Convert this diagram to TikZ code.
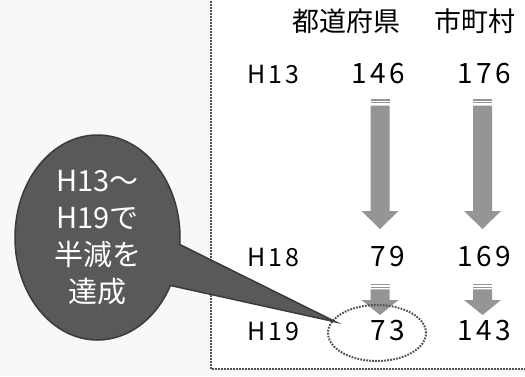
\documentclass[tikz,border=0pt]{standalone}
\usepackage{fontspec}
\setmainfont{Noto Sans CJK JP}
\newfontfamily\numfont[LetterSpace=12]{Noto Sans CJK JP}
\usetikzlibrary{shapes.geometric}
\usetikzlibrary{shapes.callouts}
\definecolor{bggray}{HTML}{F8F8F8}
\definecolor{boxgray}{HTML}{505050}
\definecolor{arrowgray}{HTML}{959595}
\definecolor{bubblefill}{HTML}{595959}
\definecolor{bubbleline}{HTML}{3A3A3A}
\tikzstyle{year}=[anchor=west, inner sep=0pt, font=\numfont\fontsize{25}{25}\selectfont]
\tikzstyle{count}=[anchor=east, inner sep=0pt, font=\numfont\fontsize{28}{28}\selectfont]
\tikzstyle{head}=[inner sep=0pt, font=\fontsize{27}{27}\selectfont]
\tikzstyle{dotline}=[draw=boxgray, line width=2pt, dash pattern=on 1.7pt off 1.3pt]
\tikzstyle{bubble}=[ellipse callout, fill=bubblefill, draw=bubbleline, line width=1.5pt,
    text=white, align=center, inner sep=0pt, minimum width=165pt, minimum height=205pt,
    callout pointer arc=24, font=\fontsize{29}{37}\selectfont]

\begin{document}
\begin{tikzpicture}[x=1pt, y=-1pt]
        \useasboundingbox (0, 0) rectangle (525, 376);
        \fill[bggray] (0, 0) rectangle (525, 376);
        \fill[white] (211, 0) rectangle (525, 369);
        \draw[dotline] (211, -2) -- (211, 369) -- (527, 369);

        \node[head] (pref) at (346, 21) {都道府県};
        \node[head] (city) at (475, 21) {市町村};

        \node[year] (y13) at (247, 74) {H13};
        \node[year] (y18) at (247, 257) {H18};
        \node[year] (y19) at (247, 331) {H19};

        \node[count] (p13) at (405, 74) {146};
        \node[count] (p18) at (405, 257) {79};
        \node[count] (p19) at (405, 331) {73};
        \node[count] (c13) at (511, 74) {176};
        \node[count] (c18) at (511, 257) {169};
        \node[count] (c19) at (511, 331) {143};

        \foreach \x in {380, 482.5} {
            \fill[arrowgray] (\x-9.5, 99.3) rectangle (\x+9.5, 100.5);
            \fill[arrowgray] (\x-9.5, 102) rectangle (\x+9.5, 103.4);
            \fill[arrowgray] (\x-9.5, 105.5) -- (\x+9.5, 105.5) -- (\x+9.5, 211) -- (\x+18.5, 211)
                -- (\x, 229) -- (\x-18.5, 211) -- (\x-9.5, 211) -- cycle;
            \fill[arrowgray] (\x-9.5, 284) rectangle (\x+9.5, 285.3);
            \fill[arrowgray] (\x-9.5, 286.7) rectangle (\x+9.5, 288);
            \fill[arrowgray] (\x-9.5, 289.3) -- (\x+9.5, 289.3) -- (\x+9.5, 300) -- (\x+18.5, 300)
                -- (\x, 315) -- (\x-18.5, 300) -- (\x-9.5, 300) -- cycle;
        }

        \node[ellipse, dotline, inner sep=0pt, minimum width=98pt, minimum height=56pt] (ring) at (377, 333) {};
        \coordinate (tip) at (336, 322);
        \node[bubble, callout absolute pointer=(tip)] (note) at (97.5, 237.5) {H13～\\H19で\\半減を\\達成};
    \end{tikzpicture}
\end{document}
